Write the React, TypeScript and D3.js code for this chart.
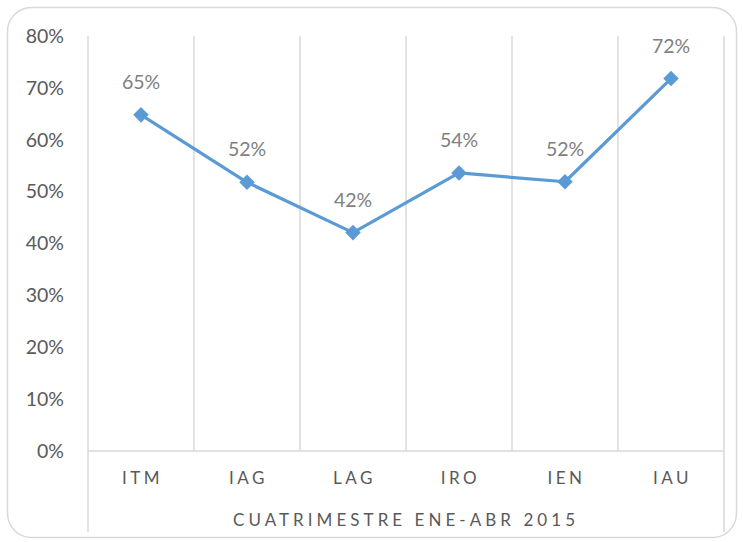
import React from "react";
import * as d3 from "d3";

const categories = ["ITM", "IAG", "LAG", "IRO", "IEN", "IAU"];
const values = [64.8, 51.8, 42.1, 53.6, 51.9, 71.8];
const labels = ["65%", "52%", "42%", "54%", "52%", "72%"];
const yTicks = [0, 10, 20, 30, 40, 50, 60, 70, 80];
const axisTitle = "CUATRIMESTRE ENE-ABR 2015";

export default function App() {
  const W = 743, H = 542;
  const left = 88, right = 724, top = 36, bottom = 451;
  const x = d3.scaleBand<string>().domain(categories).range([left, right]);
  const y = d3.scaleLinear().domain([0, 80]).range([bottom, top]);
  const line = d3.line<number>()
    .x((_, i) => x(categories[i])! + x.bandwidth() / 2)
    .y((d) => y(d));
  const font = "Lato, 'Open Sans', sans-serif";
  const grid = "#d9d9d9";
  const boundaries = [...categories.map((c) => x(c)!), right];
  return (
    <div style={{ position: "absolute", left: 0, top: 0 }}>
      <svg width={W} height={H} style={{ display: "block" }}>
        <rect x={7.5} y={7.5} width={729} height={530} rx={24} fill="#fff" stroke={grid} strokeWidth={1.5} />
        {boundaries.map((bx, i) => (
          <line key={i} x1={bx} x2={bx} y1={top} y2={i === 0 || i === boundaries.length - 1 ? 532 : bottom} stroke={grid} strokeWidth={1.5} />
        ))}
        <line x1={left} x2={right} y1={bottom} y2={bottom} stroke={grid} strokeWidth={1.5} />
        {yTicks.map((t) => (
          <text key={t} x={64} y={y(t)} dy="0.35em" textAnchor="end" fontFamily={font} fontSize={19.5} fill="#595959">{t}%</text>
        ))}
        {categories.map((c) => (
          <text key={c} x={x(c)! + x.bandwidth() / 2 + 1.5} y={484} textAnchor="middle" fontFamily={font} fontSize={17} letterSpacing={3.5} fill="#595959">{c}</text>
        ))}
        <text x={233} y={526} textAnchor="start" fontFamily={font} fontSize={17} textLength={342} lengthAdjust="spacing" fill="#595959">{axisTitle}</text>
        <path d={line(values)!} fill="none" stroke="#5b9bd5" strokeWidth={3.2} strokeLinejoin="round" />
        {values.map((v, i) => {
          const cx = x(categories[i])! + x.bandwidth() / 2;
          const cy = y(v);
          return (
            <g key={i}>
              <rect x={cx - 5.5} y={cy - 5.5} width={11} height={11} transform={`rotate(45 ${cx} ${cy})`} fill="#5b9bd5" />
              <text x={cx} y={cy - 26} textAnchor="middle" fontFamily={font} fontSize={19.5} fill="#808080">{labels[i]}</text>
            </g>
          );
        })}
      </svg>
    </div>
  );
}
